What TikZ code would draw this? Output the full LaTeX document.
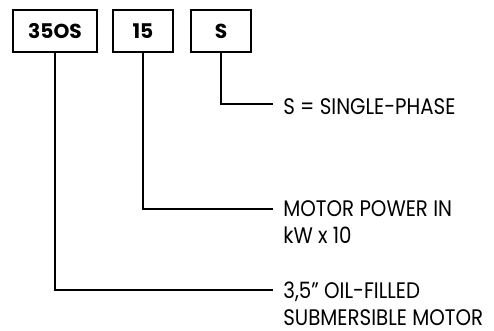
\documentclass[tikz,border=0pt]{standalone}
\usepackage{fontspec}
\setmainfont{Poppins}
\newfontfamily\descfont{Poppins}[FakeStretch=0.88]
\usetikzlibrary{positioning}
\tikzset{
  codebox/.style={draw, line width=0.7pt, minimum height=0.84cm, inner sep=0pt,
    font=\bfseries\fontsize{11.5}{12}\selectfont},
  desc/.style={anchor=base west, align=left, inner sep=0pt,
    font=\descfont\fontsize{12.8}{14.8}\selectfont},
  lead/.style={line width=0.6pt}
}
\begin{document}
\begin{tikzpicture}[x=0.02cm, y=-0.02cm]
\useasboundingbox (0,0) rectangle (494,331);
%code boxes
\node[codebox, minimum width=1.68cm] (motor) at (55,31) {35OS};
\node[codebox, minimum width=1.2cm] (power) at (143,31) {15};
\node[codebox, minimum width=1.2cm] (phase) at (221,31) {S};
%labels (base = last line)
\node[desc] (phasetxt) at (283,115) {S = SINGLE-PHASE};
\node[desc] (powertxt) at (283,243) {MOTOR POWER IN\\kW x 10};
\node[desc] (motortxt) at (283,325) {3,5” OIL-FILLED\\SUBMERSIBLE MOTOR};
%leads
\coordinate (phaseend) at (273,104);
\coordinate (powerend) at (273,209);
\coordinate (motorend) at (273,290);
\draw[lead] (phase.south) |- (phaseend);
\draw[lead] (power.south) |- (powerend);
\draw[lead] (motor.south) |- (motorend);
\end{tikzpicture}
\end{document}
